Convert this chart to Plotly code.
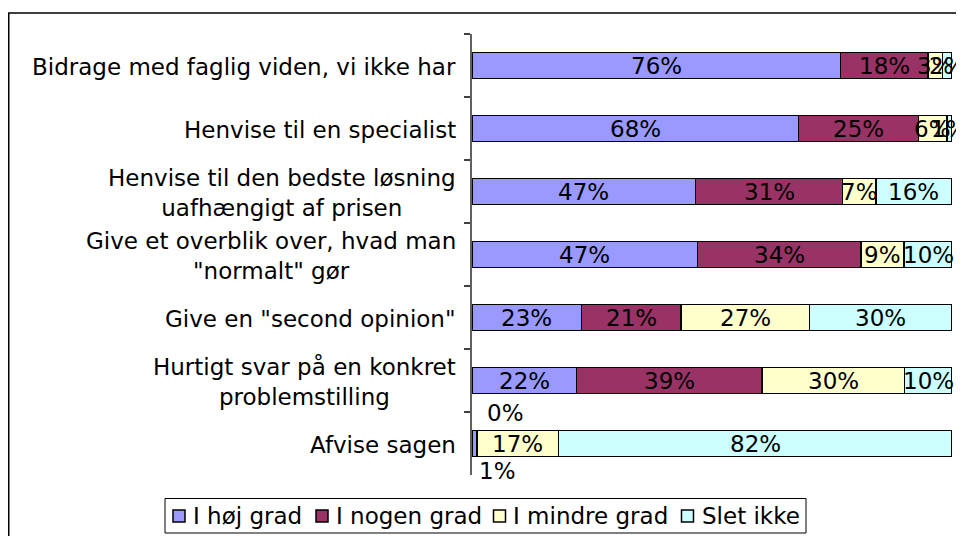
import plotly.graph_objects as go

categories = [
    "Bidrage med faglig viden, vi ikke har",
    "Henvise til en specialist",
    "Henvise til den bedste løsning<br>uafhængigt af prisen",
    "Give et overblik over, hvad man<br>\"normalt\" gør",
    "Give en \"second opinion\"",
    "Hurtigt svar på en konkret<br>problemstilling",
    "Afvise sagen",
]
series_names = ["I høj grad", "I nogen grad", "I mindre grad", "Slet ikke"]
hoej = [76, 68, 47, 47, 23, 22, 1]
nogen = [18, 25, 31, 34, 21, 39, 0]
mindre = [3, 6, 7, 9, 27, 30, 17]
slet = [2, 1, 16, 10, 30, 10, 82]
series_values = [hoej, nogen, mindre, slet]
colors = ["#9999FF", "#993366", "#FFFFCC", "#CCFFFF"]

FONT = "DejaVu Sans, Verdana, sans-serif"
FS = 23

# page offset: the browser body has an 8px margin
OFF = 8
# plot area in page pixels: x 472..952, y 34..475
PL, PR, PT, PB = 472, 952, 34, 475
L = PL - OFF
T = PT - OFF
W = PR - PL
H = PB - PT
R = 964 - L - W
B = 536 - T - H


def px_x(p):  # page px -> paper x
    return (p - OFF - L) / W


def px_y(p):  # page px -> paper y
    return (T + H - (p - OFF)) / H


fig = go.Figure()
for name, vals, col in zip(series_names, series_values, colors):
    fig.add_trace(go.Bar(
        y=categories, x=vals, name=name, orientation="h",
        marker=dict(color=col, line=dict(color="black", width=1.5)),
        hoverinfo="skip", showlegend=False,
    ))

annotations = []
# data-label offsets for tiny segments (xshift, yshift) – style only
special = {(6, 0): (3, -27), (6, 1): (8, 31)}
for i, cat in enumerate(categories):
    total = sum(s[i] for s in series_values)
    cum = 0.0
    for j, s in enumerate(series_values):
        v = s[i] / total * 100
        centre = cum + v / 2
        cum += v
        if (i, j) in special:
            xs, ys = special[(i, j)]
            annotations.append(dict(x=centre, y=cat, xref="x", yref="y", text=f"{s[i]}%",
                                    showarrow=False, xanchor="left", xshift=xs, yshift=ys,
                                    font=dict(family=FONT, size=FS, color="black")))
        else:
            annotations.append(dict(x=centre, y=cat, xref="x", yref="y", text=f"{s[i]}%",
                                    showarrow=False, xanchor="center",
                                    font=dict(family=FONT, size=FS, color="black")))
    # category label
    annotations.append(dict(x=0, y=cat, xref="paper", yref="y", text=cat, showarrow=False,
                            xanchor="right", align="center", xshift=-14, yshift=-1,
                            font=dict(family=FONT, size=FS, color="black")))

# custom legend (page px positions)
leg_sq_x = [179, 322, 499.5, 687.5]
leg_txt_x = [193, 336, 513, 702]
leg_y = 516
shapes = []
for name, col, sx, tx in zip(series_names, colors, leg_sq_x, leg_txt_x):
    shapes.append(dict(type="rect", xref="paper", yref="paper",
                       x0=px_x(sx - 6), x1=px_x(sx + 6), y0=px_y(leg_y + 6), y1=px_y(leg_y - 6),
                       line=dict(color="black", width=1.5), fillcolor=col))
    annotations.append(dict(x=px_x(tx), y=px_y(leg_y), xref="paper", yref="paper", text=name,
                            showarrow=False, xanchor="left", yanchor="middle", xshift=-2,
                            font=dict(family=FONT, size=FS, color="black")))
# legend box
shapes.append(dict(type="rect", xref="paper", yref="paper", x0=px_x(165), x1=px_x(806),
                   y0=px_y(533), y1=px_y(498.5), line=dict(color="black", width=1),
                   fillcolor="rgba(0,0,0,0)"))
# chart-area border
shapes.append(dict(type="rect", xref="paper", yref="paper", x0=px_x(OFF + 0.75), x1=px_x(990),
                   y0=px_y(560), y1=px_y(13), line=dict(color="black", width=1.5),
                   fillcolor="rgba(0,0,0,0)", layer="below"))

fig.update_layout(
    width=964, height=536,
    margin=dict(l=L, r=R, t=T, b=B, autoexpand=False),
    barmode="stack", barnorm="percent", bargap=0.587,
    paper_bgcolor="white", plot_bgcolor="white",
    font=dict(family=FONT, size=FS, color="black"),
    xaxis=dict(range=[0, 100], visible=False, fixedrange=True),
    yaxis=dict(autorange=False, range=[len(categories) - 0.5, -0.5], showticklabels=False,
               showline=True, linecolor="#606060",
               linewidth=1.5, ticks="outside", tickson="boundaries", ticklen=6,
               tickcolor="#404040", tickwidth=1.5, showgrid=False, zeroline=False),
    showlegend=False,
    annotations=annotations,
    shapes=shapes,
)

fig.write_html("out.html")
